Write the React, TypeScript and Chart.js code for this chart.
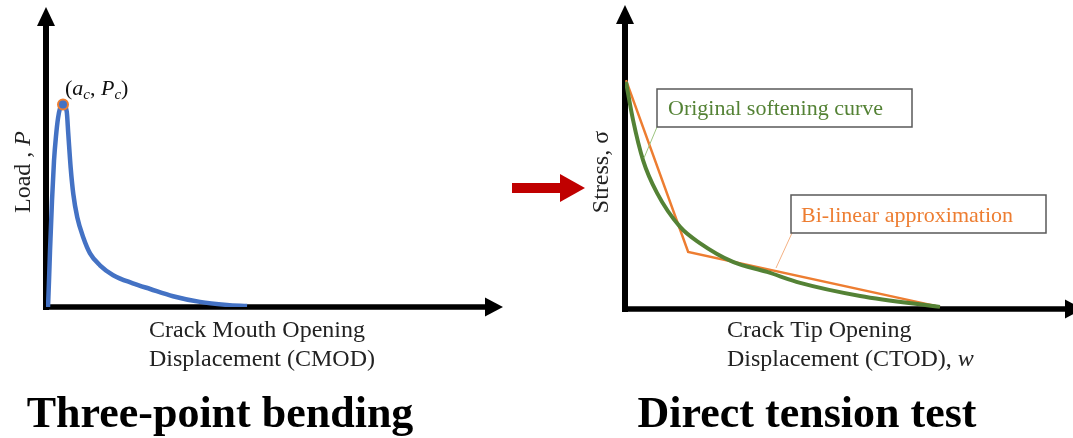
import React, { useEffect, useRef } from 'react';
import { Chart, registerables } from 'chart.js';

Chart.register(...registerables);

// ---------- DATA ----------
// Three-point bending: load vs CMOD (arbitrary units, 0..100 on each axis)
const loadX = [0.44, 0.66, 0.88, 1.31, 1.75, 2.19, 2.63, 3.06, 3.72, 4.53, 4.88, 5.4, 5.97, 6.85, 8.16, 9.63, 11.8, 14.7, 19.0, 22.8, 27.8, 33.7, 39.6, 44.0];
const loadY = [0, 8.9, 18.9, 35.4, 48.7, 57.0, 62.9, 66.2, 67.5, 65.2, 57.6, 46.4, 37.7, 29.8, 23.2, 17.9, 13.9, 10.6, 7.9, 6.0, 3.6, 1.7, 0.7, 0.3];
// critical point (a_c, P_c)
const peakX = [3.72];
const peakY = [67.5];

// Direct tension: stress vs CTOD
const softX = [0.22, 1.79, 4.02, 7.14, 12.3, 16.7, 24.1, 31.7, 39.1, 52.5, 70.3];
const softY = [74.7, 62.2, 49, 38.2, 27, 21.7, 15.5, 12.2, 8.6, 4.3, 0.7];
const bilinX = [0.22, 14.1, 70.3];
const bilinY = [75.3, 18.8, 0.7];

// ---------- TEXT ----------
const leftXLabel = ['Crack Mouth Opening', 'Displacement (CMOD)'];
const rightXLabel = ['Crack Tip Opening', 'Displacement (CTOD), '];
const leftTitle = 'Three-point bending';
const rightTitle = 'Direct tension test';
const softLabel = 'Original softening curve';
const bilinLabel = 'Bi-linear approximation';

// ---------- STYLE ----------
const BLUE = '#4472C4';
const ORANGE = '#ED7D31';
const GREEN = '#548235';
const RED = '#C00000';
const SERIF = '"Liberation Serif", "Times New Roman", serif';
const TXT = '#222222';

const toPts = (xs: number[], ys: number[]) => xs.map((x, i) => ({ x, y: ys[i] }));

type Run = { t: string; font: string; dy?: number };
function runsWidth(ctx: CanvasRenderingContext2D, runs: Run[]) {
  let w = 0;
  for (const r of runs) {
    ctx.font = r.font;
    w += ctx.measureText(r.t).width;
  }
  return w;
}
function drawRuns(ctx: CanvasRenderingContext2D, x: number, y: number, runs: Run[]) {
  for (const r of runs) {
    ctx.font = r.font;
    ctx.fillText(r.t, x, y + (r.dy || 0));
    x += ctx.measureText(r.t).width;
  }
}

function drawAxes(ctx: CanvasRenderingContext2D, a: any, xHead: number) {
  ctx.save();
  ctx.fillStyle = '#000';
  ctx.strokeStyle = '#000';
  // y axis
  ctx.lineWidth = 6;
  ctx.beginPath();
  ctx.moveTo(a.left, a.bottom + 3);
  ctx.lineTo(a.left, a.top + 18);
  ctx.stroke();
  ctx.beginPath();
  ctx.moveTo(a.left - 9, a.top + 19);
  ctx.lineTo(a.left + 9, a.top + 19);
  ctx.lineTo(a.left, a.top);
  ctx.closePath();
  ctx.fill();
  // x axis
  ctx.lineWidth = 5.5;
  ctx.beginPath();
  ctx.moveTo(a.left - 3, a.bottom);
  ctx.lineTo(xHead + 1, a.bottom);
  ctx.stroke();
  ctx.beginPath();
  ctx.moveTo(xHead, a.bottom - 9.5);
  ctx.lineTo(xHead, a.bottom + 9.5);
  ctx.lineTo(xHead + 18, a.bottom);
  ctx.closePath();
  ctx.fill();
  ctx.restore();
}

const LEFT_W = 590;
const RIGHT_W = 1073 - LEFT_W;

const leftDecor = {
  id: 'leftDecor',
  beforeDatasetsDraw(chart: any) {
    const a = chart.chartArea;
    drawAxes(chart.ctx, a, a.right - 18);
  },
  afterDraw(chart: any) {
    const ctx: CanvasRenderingContext2D = chart.ctx;
    const xs = chart.scales.x;
    const ys = chart.scales.y;
    ctx.save();
    ctx.fillStyle = TXT;
    ctx.textBaseline = 'alphabetic';
    // y label (rotated)
    const yRuns: Run[] = [
      { t: 'Load , ', font: `24px ${SERIF}` },
      { t: 'P', font: `italic 24px ${SERIF}` },
    ];
    const yw = runsWidth(ctx, yRuns);
    ctx.save();
    ctx.translate(30, 172);
    ctx.rotate(-Math.PI / 2);
    drawRuns(ctx, -yw / 2, 0, yRuns);
    ctx.restore();
    // peak label
    const px = xs.getPixelForValue(peakX[0]);
    const py = ys.getPixelForValue(peakY[0]);
    ctx.fillStyle = '#111';
    drawRuns(ctx, px + 2, py - 10, [
      { t: '(', font: `22px ${SERIF}` },
      { t: 'a', font: `italic 22px ${SERIF}` },
      { t: 'c', font: `italic 15px ${SERIF}`, dy: 4 },
      { t: ', ', font: `22px ${SERIF}` },
      { t: 'P', font: `italic 22px ${SERIF}` },
      { t: 'c', font: `italic 15px ${SERIF}`, dy: 4 },
      { t: ')', font: `22px ${SERIF}` },
    ]);
    // x label
    ctx.fillStyle = TXT;
    ctx.font = `24px ${SERIF}`;
    ctx.textAlign = 'left';
    ctx.fillText(leftXLabel[0], 149, 337);
    ctx.fillText(leftXLabel[1], 149, 366);
    // title
    ctx.fillStyle = '#000';
    ctx.font = `bold 44px ${SERIF}`;
    ctx.textAlign = 'center';
    ctx.fillText(leftTitle, 220, 427);
    // red arrow
    ctx.fillStyle = RED;
    ctx.fillRect(512, 183, 49, 10);
    ctx.beginPath();
    ctx.moveTo(560, 174);
    ctx.lineTo(560, 202);
    ctx.lineTo(585, 188);
    ctx.closePath();
    ctx.fill();
    ctx.restore();
  },
};

const OFF = LEFT_W; // right canvas offset in page px

const rightDecor = {
  id: 'rightDecor',
  beforeDatasetsDraw(chart: any) {
    const a = chart.chartArea;
    drawAxes(chart.ctx, a, 1065 - OFF);
  },
  afterDraw(chart: any) {
    const ctx: CanvasRenderingContext2D = chart.ctx;
    ctx.save();
    ctx.textBaseline = 'alphabetic';
    ctx.fillStyle = TXT;
    // y label
    ctx.font = `24px ${SERIF}`;
    const ylab = 'Stress, σ';
    const w = ctx.measureText(ylab).width;
    ctx.save();
    ctx.translate(608 - OFF, 172);
    ctx.rotate(-Math.PI / 2);
    ctx.fillText(ylab, -w / 2, 0);
    ctx.restore();
    // x label
    ctx.textAlign = 'left';
    ctx.fillText(rightXLabel[0], 727 - OFF, 337);
    drawRuns(ctx, 727 - OFF, 366, [
      { t: rightXLabel[1], font: `24px ${SERIF}` },
      { t: 'w', font: `italic 24px ${SERIF}` },
    ]);
    // title
    ctx.fillStyle = '#000';
    ctx.font = `bold 44px ${SERIF}`;
    ctx.textAlign = 'center';
    ctx.fillText(rightTitle, 807 - OFF, 427);

    // annotation: original softening curve
    ctx.lineWidth = 1;
    ctx.strokeStyle = '#9CC47F';
    ctx.beginPath();
    ctx.moveTo(657 - OFF, 127);
    ctx.lineTo(644 - OFF, 158);
    ctx.stroke();
    ctx.fillStyle = '#fff';
    ctx.fillRect(657 - OFF, 89, 255, 38);
    ctx.strokeStyle = '#595959';
    ctx.lineWidth = 1.5;
    ctx.strokeRect(657 - OFF, 89, 255, 38);
    ctx.fillStyle = GREEN;
    ctx.font = `22px ${SERIF}`;
    ctx.textAlign = 'left';
    ctx.fillText(softLabel, 668 - OFF, 115);

    // annotation: bi-linear
    ctx.lineWidth = 1;
    ctx.strokeStyle = '#F4B183';
    ctx.beginPath();
    ctx.moveTo(792 - OFF, 233);
    ctx.lineTo(776 - OFF, 268);
    ctx.stroke();
    ctx.fillStyle = '#fff';
    ctx.fillRect(791 - OFF, 195, 255, 38);
    ctx.strokeStyle = '#595959';
    ctx.lineWidth = 1.5;
    ctx.strokeRect(791 - OFF, 195, 255, 38);
    ctx.fillStyle = ORANGE;
    ctx.font = `22px ${SERIF}`;
    ctx.fillText(bilinLabel, 801 - OFF, 222);
    ctx.restore();
  },
};

const hiddenScales = {
  x: { type: 'linear' as const, min: 0, max: 100, display: false },
  y: { type: 'linear' as const, min: 0, max: 100, display: false },
};

export default function App() {
  const leftRef = useRef<HTMLCanvasElement>(null);
  const rightRef = useRef<HTMLCanvasElement>(null);

  useEffect(() => {
    document.body.style.margin = '0';
    const left = new Chart(leftRef.current!, {
      type: 'line',
      data: {
        datasets: [
          {
            data: toPts(peakX, peakY),
            showLine: false,
            pointRadius: 5,
            pointBackgroundColor: BLUE,
            pointBorderColor: ORANGE,
            pointBorderWidth: 2,
            order: 0,
          },
          {
            data: toPts(loadX, loadY),
            borderColor: BLUE,
            borderWidth: 4.5,
            pointRadius: 0,
            cubicInterpolationMode: 'monotone',
            fill: false,
            order: 1,
          },
        ],
      },
      options: {
        responsive: false,
        maintainAspectRatio: false,
        animation: false,
        layout: { padding: { left: 46, right: LEFT_W - 503, top: 5, bottom: 438 - 307 } },
        scales: hiddenScales,
        plugins: { legend: { display: false }, tooltip: { enabled: false } },
        events: [],
      },
      plugins: [leftDecor],
    } as any);

    const right = new Chart(rightRef.current!, {
      type: 'line',
      data: {
        datasets: [
          {
            data: toPts(softX, softY),
            borderColor: GREEN,
            borderWidth: 4,
            pointRadius: 0,
            cubicInterpolationMode: 'monotone',
            fill: false,
            order: 0,
          },
          {
            data: toPts(bilinX, bilinY),
            borderColor: ORANGE,
            borderWidth: 2.5,
            pointRadius: 0,
            tension: 0,
            fill: false,
            order: 1,
          },
        ],
      },
      options: {
        responsive: false,
        maintainAspectRatio: false,
        animation: false,
        layout: { padding: { left: 625 - OFF, right: 0, top: 5, bottom: 438 - 309 } },
        scales: hiddenScales,
        plugins: { legend: { display: false }, tooltip: { enabled: false } },
        events: [],
      },
      plugins: [rightDecor],
    } as any);

    return () => {
      left.destroy();
      right.destroy();
    };
  }, []);

  return (
    <div style={{ position: 'fixed', left: 0, top: 0, width: 1073, height: 438, background: '#fff' }}>
      <canvas
        ref={leftRef}
        width={LEFT_W}
        height={438}
        style={{ position: 'absolute', left: 0, top: 0, width: LEFT_W, height: 438 }}
      />
      <canvas
        ref={rightRef}
        width={RIGHT_W}
        height={438}
        style={{ position: 'absolute', left: LEFT_W, top: 0, width: RIGHT_W, height: 438 }}
      />
    </div>
  );
}
